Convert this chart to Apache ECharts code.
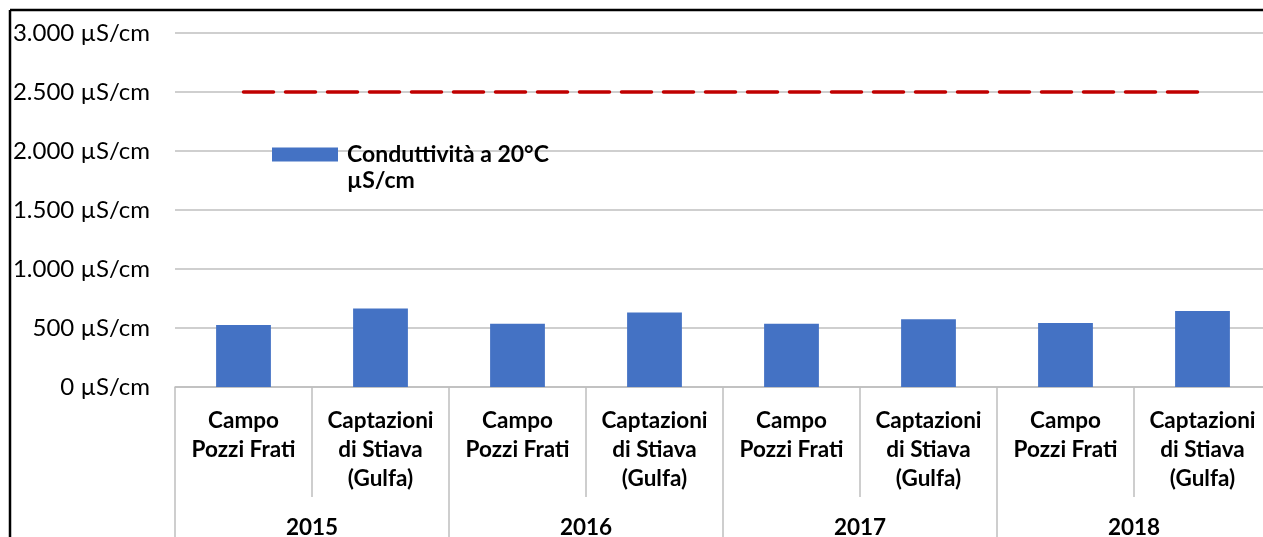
<!DOCTYPE html>
<html>
<head>
<meta charset="utf-8">
<script src="https://cdn.jsdelivr.net/npm/echarts@6/dist/echarts.min.js"></script>
<style>
  html, body { margin: 0; padding: 0; background: #fff; }
  #chart { width: 1263px; height: 537px; }
</style>
</head>
<body>
<div id="chart"></div>
<script>
    // dati
    var categories = ['Campo\nPozzi Frati', 'Captazioni\ndi Stiava\n(Gulfa)',
        'Campo\nPozzi Frati', 'Captazioni\ndi Stiava\n(Gulfa)',
        'Campo\nPozzi Frati', 'Captazioni\ndi Stiava\n(Gulfa)',
        'Campo\nPozzi Frati', 'Captazioni\ndi Stiava\n(Gulfa)'];
    var years = ['2015', '2016', '2017', '2018'];
    var conducibilita = [525, 665, 535, 632, 535, 575, 543, 645];
    var limite = [2500, 2500, 2500, 2500, 2500, 2500, 2500, 2500];
    var yTicks = [0, 500, 1000, 1500, 2000, 2500, 3000];

    var font = 'Lato, "Open Sans", sans-serif';

    function fmt(v) {
        return String(v).replace(/\B(?=(\d{3})+(?!\d))/g, '.') + ' µS/cm';
    }

    var myChart = echarts.init(document.getElementById('chart'));
    var option = {
        animation: false,
        textStyle: { fontFamily: font },
        grid: { left: 175, right: -8, top: 33, bottom: 150, outerBoundsMode: 'none', containLabel: false },
        legend: {
            data: ['Conduttività a 20°C'],
            left: 272,
            top: 143,
            padding: 0,
            itemWidth: 66,
            itemHeight: 14,
            itemGap: 0,
            icon: 'rect',
            textStyle: { fontFamily: font, fontSize: 23, fontWeight: 'bold', color: '#000', padding: [0, 0, 0, 4] }
        },
        xAxis: [
            {
                type: 'category',
                data: categories,
                axisLine: { show: true, lineStyle: { color: '#BFBFBF', width: 1.5 } },
                axisTick: { show: true, length: 110, interval: 0, lineStyle: { color: '#BFBFBF', width: 1.5 } },
                axisLabel: {
                    interval: 0, margin: 19, color: '#000', fontFamily: font,
                    fontSize: 22.5, fontWeight: 'bold', lineHeight: 29
                }
            },
            {
                type: 'category',
                data: years,
                position: 'bottom',
                axisLine: { show: false },
                axisTick: { show: true, length: 170, interval: 0, lineStyle: { color: '#BFBFBF', width: 1.5 } },
                axisLabel: {
                    interval: 0, margin: 126, color: '#000', fontFamily: font,
                    fontSize: 22.5, fontWeight: 'bold', lineHeight: 29
                }
            }
        ],
        yAxis: {
            type: 'value',
            min: yTicks[0],
            max: yTicks[yTicks.length - 1],
            interval: 500,
            axisLine: { show: false },
            axisTick: { show: false },
            splitLine: { lineStyle: { color: '#BFBFBF', width: 1.5 } },
            axisLabel: {
                margin: 25, color: '#000', fontFamily: font, fontSize: 24,
                formatter: fmt
            }
        },
        series: [
            {
                name: 'Conduttività a 20°C',
                type: 'bar',
                data: conducibilita,
                barWidth: '40%',
                itemStyle: { color: '#4472C4' }
            },
            {
                name: 'Limite',
                type: 'line',
                data: limite,
                symbol: 'none',
                z: 5,
                lineStyle: { color: '#C00000', width: 3.5, type: [30, 12], cap: 'round' }
            }
        ],
        graphic: [
            // seconda riga della legenda
            { type: 'text', left: 347, top: 169, style: { text: 'µS/cm', font: 'bold 23px ' + font, fill: '#000' } },
            { type: 'line', shape: { x1: 10, y1: 10, x2: 1263, y2: 10 }, style: { stroke: '#000', lineWidth: 2.5 } },
            { type: 'line', shape: { x1: 10, y1: 10, x2: 10, y2: 537 }, style: { stroke: '#000', lineWidth: 2.5 } }
        ]
    };
    myChart.setOption(option);
</script>
</body>
</html>
